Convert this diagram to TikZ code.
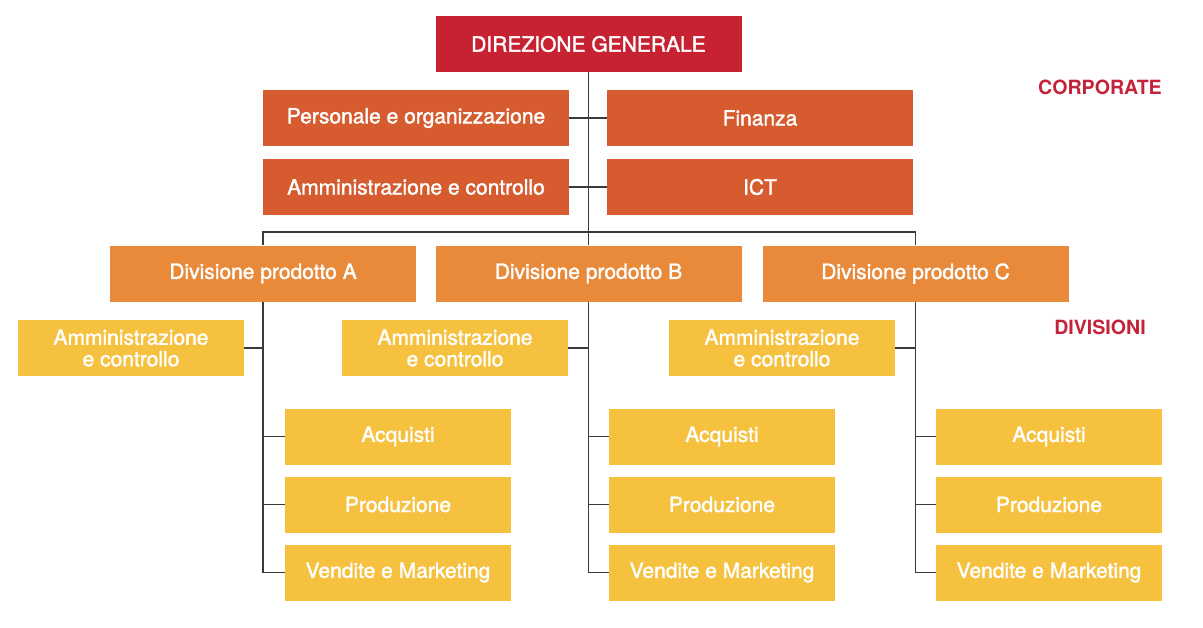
\documentclass[tikz,border=0pt]{standalone}
\usepackage{xcolor}
\usepackage{fontspec}
\setmainfont{TeX Gyre Heros}
\newfontfamily\boxfont{TeX Gyre Heros}[FakeBold=1.6]
\usepackage{tikz}

\definecolor{dgred}{HTML}{C62232}
\definecolor{corp}{HTML}{D65B2F}
\definecolor{divis}{HTML}{E88A3A}
\definecolor{unit}{HTML}{F5C13F}
\definecolor{lbl}{HTML}{C4233A}
\definecolor{wire}{HTML}{3A3A3A}

\tikzset{
  box/.style={fill=#1,text=white,inner sep=0pt,minimum width=306pt,minimum height=56pt,
    align=center,font=\fontsize{21}{21.5}\boxfont},
  smallbox/.style={box=unit,minimum width=226pt},
  side/.style={text=lbl,font=\fontsize{19.6}{21}\selectfont\bfseries},
  wire/.style={draw=wire,line width=1.4pt}
}

\begin{document}
\begin{tikzpicture}[x=1pt,y=-1pt]
\useasboundingbox (0,0) rectangle (1203,627);
%Corporate
\node [box=dgred] (dg) at (588.5,44) {DIREZIONE GENERALE};
\node [box=corp] (pers) at (416,118) {Personale e organizzazione};
\node [box=corp] (fin) at (760,118) {Finanza};
\node [box=corp] (amm) at (416,187) {Amministrazione e controllo};
\node [box=corp] (ict) at (760,187) {ICT};
\coordinate (bus) at (588.5,232);
%Divisioni
\node [box=divis] (divA) at (263,273.5) {Divisione prodotto A};
\node [box=divis] (divB) at (588.5,273.5) {Divisione prodotto B};
\node [box=divis] (divC) at (915.5,273.5) {Divisione prodotto C};
\foreach \d/\ax/\ux in {A/131/398, B/455/722, C/782/1049} {
  \node [smallbox] (amm\d) at (\ax,348) {Amministrazione\\e controllo};
  \node [smallbox] (acq\d) at (\ux,436.5) {Acquisti};
  \node [smallbox] (prod\d) at (\ux,504.5) {Produzione};
  \node [smallbox] (vend\d) at (\ux,572.5) {Vendite e Marketing};
}
%Text
\node [side] (corporate) at (1100,87) {CORPORATE};
\node [side] (divisioni) at (1100,327) {DIVISIONI};
%Lines
\draw [wire] (dg) -- (bus);
\draw [wire] (pers) -- (fin);
\draw [wire] (amm) -- (ict);
\draw [wire] (divA.north) |- (bus) -| (divC.north);
\draw [wire] (bus) -- (divB.north);
\foreach \d in {A,B,C} {
  \draw [wire] (div\d.south) |- (vend\d.west);
  \draw [wire] (amm\d.east) -- (amm\d.east -| div\d.south);
  \draw [wire] (acq\d.west) -- (acq\d.west -| div\d.south);
  \draw [wire] (prod\d.west) -- (prod\d.west -| div\d.south);
}
\end{tikzpicture}
\end{document}
